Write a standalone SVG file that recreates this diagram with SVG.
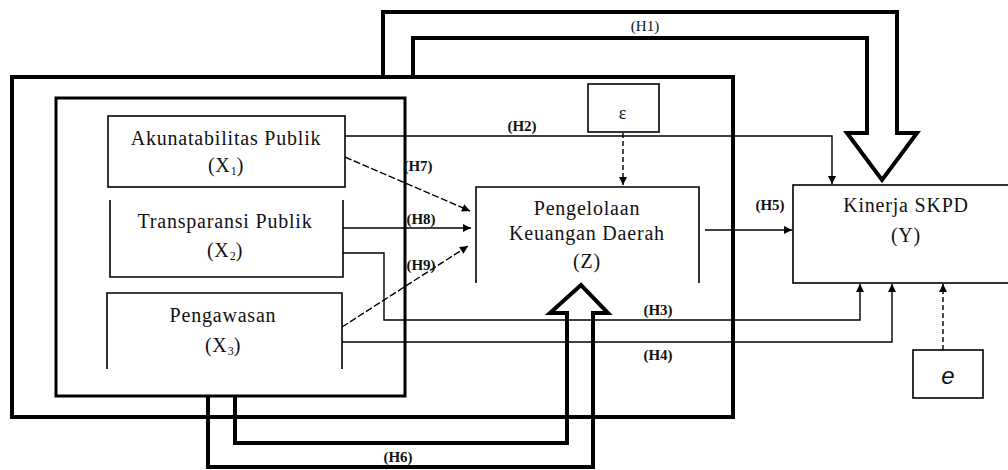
<svg xmlns="http://www.w3.org/2000/svg" width="1008" height="470" viewBox="0 0 1008 470">
<style>
.frame{fill:none;stroke:#000;stroke-width:4}
.frame3{fill:none;stroke:#000;stroke-width:3}
.box{fill:none;stroke:#000;stroke-width:1.6}
.ln{fill:none;stroke:#000;stroke-width:1.4}
.dash{stroke-dasharray:7 2.5}
.edash{stroke-dasharray:5 3}
.lbl{font-family:"Liberation Serif","Times New Roman",serif;font-size:20px;letter-spacing:0.8px;fill:#111;text-anchor:middle}
.sub{font-size:12px;letter-spacing:0}
.h{font-family:"Liberation Serif","Times New Roman",serif;font-size:15px;font-weight:bold;fill:#111;text-anchor:middle}
.hn{font-weight:normal}
</style>
<defs>
<marker id="ah" viewBox="0 0 10 10" refX="10" refY="5" markerWidth="9" markerHeight="8" markerUnits="userSpaceOnUse" orient="auto">
<path d="M0,0 L10,5 L0,10 z" fill="#000"/>
</marker>
</defs>
<rect width="1008" height="470" fill="#fff"/>

<g id="outer-frame"><rect class="frame" x="12" y="77" width="721" height="340"/></g>
<g id="inner-frame"><rect class="frame3" x="56" y="98" width="349" height="298"/></g>

<g id="node-x1">
<rect class="box" x="108" y="116" width="237" height="71"/>
<text class="lbl" x="226" y="145">Akunatabilitas Publik</text>
<text class="lbl" x="226" y="172">(X<tspan class="sub" dy="3">1</tspan><tspan dy="-3">)</tspan></text>
</g>
<g id="node-x2">
<path class="box" d="M110,200 V277 H343 V200"/>
<text class="lbl" x="225" y="228">Transparansi Publik</text>
<text class="lbl" x="225" y="257">(X<tspan class="sub" dy="3">2</tspan><tspan dy="-3">)</tspan></text>
</g>
<g id="node-x3">
<path class="box" d="M107,369 V293 H342 V369"/>
<text class="lbl" x="223" y="322">Pengawasan</text>
<text class="lbl" x="223" y="352">(X<tspan class="sub" dy="3">3</tspan><tspan dy="-3">)</tspan></text>
</g>
<g id="node-z">
<path class="box" d="M476,283 V187 H699 V283"/>
<text class="lbl" x="587" y="215">Pengelolaan</text>
<text class="lbl" x="587" y="240">Keuangan Daerah</text>
<text class="lbl" x="587" y="268">(Z)</text>
</g>
<g id="node-y">
<rect class="box" x="793" y="185" width="240" height="98"/>
<text class="lbl" x="906" y="212">Kinerja SKPD</text>
<text class="lbl" x="906" y="242">(Y)</text>
</g>
<g id="node-e1">
<rect class="box" x="588" y="84" width="71" height="48"/>
<text class="lbl" x="623" y="119" style="font-size:18px">ε</text>
</g>
<g id="node-e2">
<rect class="box" x="913" y="350" width="70" height="48"/>
<text x="948" y="384" style="font-family:'Liberation Sans',Arial,sans-serif;font-style:italic;font-size:24px;text-anchor:middle;fill:#111">e</text>
</g>

<g id="connectors">
<path class="frame" d="M383,77 V12 H897 V133 H917 L882,180 L847,133 H867 V38 H413 V77" stroke-linejoin="miter"/>
<path class="frame" d="M208,396 V467 H593 V313 H608 L581,285 L550,313 H567 V443 H235 V396" stroke-linejoin="miter"/>
<path class="ln" d="M345,136 H832 V184" marker-end="url(#ah)"/>
<path class="ln dash" d="M345,157 L470,211" marker-end="url(#ah)"/>
<path class="ln" d="M343,228 H471" marker-end="url(#ah)"/>
<path class="ln dash" d="M342,327 L468,246" marker-end="url(#ah)"/>
<path class="ln" d="M705,230 H792" marker-end="url(#ah)"/>
<path class="ln" d="M343,253 H384 V320 H860 V284" marker-end="url(#ah)"/>
<path class="ln" d="M342,342 H892 V284" marker-end="url(#ah)"/>
<path class="ln edash" d="M623,133 V185" marker-end="url(#ah)"/>
<path class="ln edash" d="M943,350 V284" marker-end="url(#ah)"/>
<text class="h hn" x="645" y="31">(H1)</text>
<text class="h" x="522" y="131">(H2)</text>
<text class="h" x="658" y="315">(H3)</text>
<text class="h" x="658" y="360">(H4)</text>
<text class="h" x="770" y="210">(H5)</text>
<text class="h" x="398" y="462">(H6)</text>
<text class="h" x="418" y="171">(H7)</text>
<text class="h" x="421" y="224">(H8)</text>
<text class="h" x="421" y="270">(H9)</text>
</g>
</svg>
